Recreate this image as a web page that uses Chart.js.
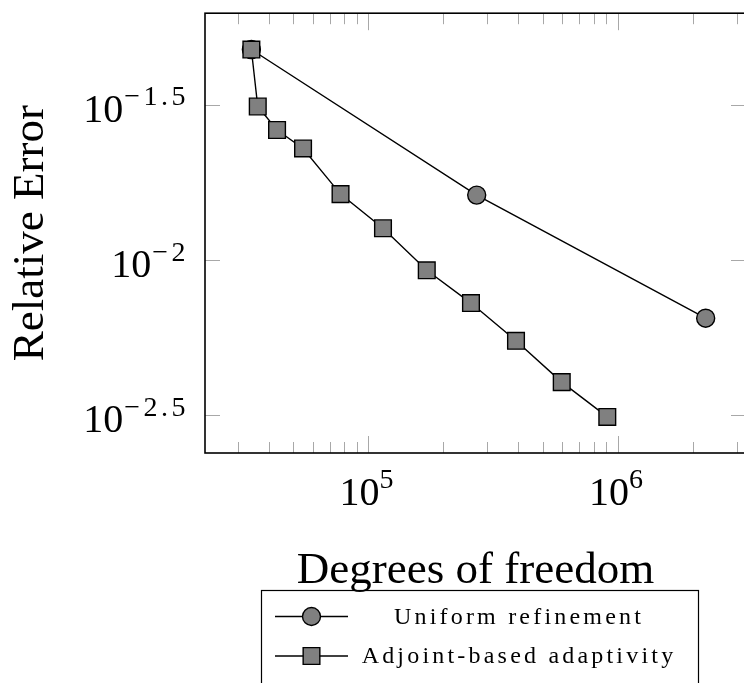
<!DOCTYPE html>
<html>
<head>
<meta charset="utf-8">
<script src="https://cdn.jsdelivr.net/npm/chart.js@4/dist/chart.umd.min.js"></script>
<style>
  html, body { margin: 0; padding: 0; background: #fff; overflow: hidden; }
  #wrap { width: 800px; height: 683px; }
</style>
</head>
<body>
<div id="wrap"><canvas id="c" width="800" height="683"></canvas></div>
<script>
// ---- data ----
const uniformDofs = [33960, 272000, 2253000];
const uniformErr  = [0.04766, 0.01619, 0.006496];

const adjointDofs = [33960, 36020, 43050, 54730, 77360, 114500, 171500, 258000, 391000, 596400, 908400];
const adjointErr  = [0.04766, 0.03124, 0.02624, 0.02288, 0.01631, 0.01266, 0.00927, 0.007269, 0.005495, 0.004044, 0.003124];

const seriesNames = ['Uniform refinement', 'Adjoint-based adaptivity'];
const xTitle = 'Degrees of freedom';
const yTitle = 'Relative Error';

const xMajorTicks = [1e5, 1e6];
const xMajorLabels = [['10', '5'], ['10', '6']];
const xMinorTicks = [3e4, 4e4, 5e4, 6e4, 7e4, 8e4, 9e4, 2e5, 3e5, 4e5, 5e5, 6e5, 7e5, 8e5, 9e5, 2e6, 3e6];
const yTicks = [Math.pow(10, -1.5), 1e-2, Math.pow(10, -2.5)];
const yTickLabels = [['10', '\u22121.5'], ['10', '\u22122'], ['10', '\u22122.5']];

const xMin = Math.pow(10, 4.345), xMax = Math.pow(10, 6.5145);
const yMin = Math.pow(10, -2.6215), yMax = Math.pow(10, -1.2048);

// ---- styling ----
const FONT = '"Liberation Serif", "DejaVu Serif", serif';
const markFill = '#808080';

const decor = {
  id: 'decor',
  beforeDatasetsDraw(chart) {
    const { ctx, chartArea: a, scales: { x, y } } = chart;
    ctx.save();
    ctx.strokeStyle = '#a8a8a8';
    ctx.lineWidth = 1;
    ctx.beginPath();
    const xt = (v, len) => {
      const px = Math.round(x.getPixelForValue(v)) + 0.5;
      ctx.moveTo(px, a.bottom); ctx.lineTo(px, a.bottom - len);
      ctx.moveTo(px, a.top); ctx.lineTo(px, a.top + len);
    };
    xMajorTicks.forEach(v => xt(v, 17));
    xMinorTicks.forEach(v => xt(v, 11));
    yTicks.forEach(v => {
      const py = Math.round(y.getPixelForValue(v)) + 0.5;
      ctx.moveTo(a.left, py); ctx.lineTo(a.left + 15, py);
      ctx.moveTo(a.right, py); ctx.lineTo(a.right - 15, py);
    });
    ctx.stroke();
    ctx.restore();
  },
  afterDraw(chart) {
    const { ctx, chartArea: a, scales: { x, y } } = chart;
    ctx.save();
    // frame
    ctx.strokeStyle = '#000';
    ctx.lineWidth = 1.6;
    ctx.strokeRect(a.left, a.top, a.right - a.left, a.bottom - a.top);

    // tick labels
    ctx.fillStyle = '#000';
    ctx.textBaseline = 'alphabetic';
    ctx.textAlign = 'left';
    const mainF = '40px ' + FONT, supF = '28px ' + FONT;
    const SUP_LS = 3.5;
    const supW = t => { ctx.font = supF; ctx.letterSpacing = SUP_LS + 'px'; const w = ctx.measureText(t).width; ctx.letterSpacing = '0px'; return w; };
    const drawSup = (t, sx, sy) => { ctx.font = supF; ctx.letterSpacing = SUP_LS + 'px'; ctx.fillText(t, sx, sy); ctx.letterSpacing = '0px'; };
    xMajorTicks.forEach((v, i) => {
      const px = x.getPixelForValue(v);
      ctx.font = mainF; const w1 = ctx.measureText(xMajorLabels[i][0]).width;
      const w2 = supW(xMajorLabels[i][1]);
      const s = px - (w1 + w2) / 2;
      ctx.font = mainF; ctx.fillText(xMajorLabels[i][0], s, a.bottom + 52);
      drawSup(xMajorLabels[i][1], s + w1, a.bottom + 35);
    });
    yTicks.forEach((v, i) => {
      const py = y.getPixelForValue(v);
      ctx.font = mainF; const w1 = ctx.measureText(yTickLabels[i][0]).width;
      const w2 = supW(yTickLabels[i][1]);
      const s = a.left - 17 - w1 - w2;
      ctx.font = mainF; ctx.fillText(yTickLabels[i][0], s, py + 17);
      drawSup(yTickLabels[i][1], s + w1 + 1, py + 0.5);
    });

    // axis titles
    ctx.font = '45px ' + FONT;
    ctx.textAlign = 'center';
    ctx.fillText(xTitle, (a.left + a.right) / 2, 583);
    ctx.save();
    ctx.translate(43, (a.top + a.bottom) / 2);
    ctx.rotate(-Math.PI / 2);
    ctx.fillText(yTitle, 0, 0);
    ctx.restore();

    // legend
    ctx.lineWidth = 1.2;
    ctx.strokeStyle = '#000';
    ctx.strokeRect(261.5, 590.5, 437, 140);
    const rows = [616.5, 656];
    const order = [0, 1]; // dataset index for each legend row
    rows.forEach((ry, r) => {
      const ds = chart.data.datasets[order[r]];
      ctx.beginPath();
      ctx.lineWidth = ds.borderWidth;
      ctx.strokeStyle = ds.borderColor;
      ctx.moveTo(275, ry); ctx.lineTo(348, ry);
      ctx.stroke();
      ctx.fillStyle = ds.pointBackgroundColor;
      ctx.strokeStyle = ds.pointBorderColor;
      ctx.lineWidth = ds.pointBorderWidth;
      Chart.helpers.drawPoint(ctx, { pointStyle: ds.pointStyle, radius: ds.pointRadius, borderWidth: ds.pointBorderWidth, rotation: 0 }, 311.5, ry);
      ctx.fillStyle = '#000';
      ctx.font = '24px ' + FONT;
      ctx.letterSpacing = '3.2px';
      ctx.textAlign = 'center';
      ctx.fillText(ds.label, 519, ry + 7);
      ctx.letterSpacing = '0px';
    });
    ctx.restore();
  }
};

new Chart(document.getElementById('c'), {
  type: 'scatter',
  data: {
    datasets: [
      {
        label: seriesNames[0],
        data: uniformDofs.map((v, i) => ({ x: v, y: uniformErr[i] })),
        showLine: true,
        borderColor: '#000',
        borderWidth: 1.4,
        pointStyle: 'circle',
        pointRadius: 9,
        pointBackgroundColor: markFill,
        pointBorderColor: '#000',
        pointBorderWidth: 1.4,
        order: 2
      },
      {
        label: seriesNames[1],
        data: adjointDofs.map((v, i) => ({ x: v, y: adjointErr[i] })),
        showLine: true,
        borderColor: '#000',
        borderWidth: 1.4,
        pointStyle: 'rect',
        pointRadius: 11.8,
        pointBackgroundColor: markFill,
        pointBorderColor: '#000',
        pointBorderWidth: 1.4,
        order: 1
      }
    ]
  },
  options: {
    responsive: false,
    devicePixelRatio: 1,
    animation: false,
    layout: { padding: { left: 0, top: 10, right: 54, bottom: 0 } },
    plugins: { legend: { display: false }, tooltip: { enabled: false } },
    scales: {
      x: {
        type: 'logarithmic', min: xMin, max: xMax, bounds: 'data',
        grid: { display: false }, border: { display: false },
        ticks: { display: false },
        afterFit(s) { s.height = 230; }
      },
      y: {
        type: 'logarithmic', min: yMin, max: yMax, bounds: 'data',
        grid: { display: false }, border: { display: false },
        ticks: { display: false },
        afterFit(s) { s.width = 205; }
      }
    }
  },
  plugins: [decor]
});
</script>
</body>
</html>
